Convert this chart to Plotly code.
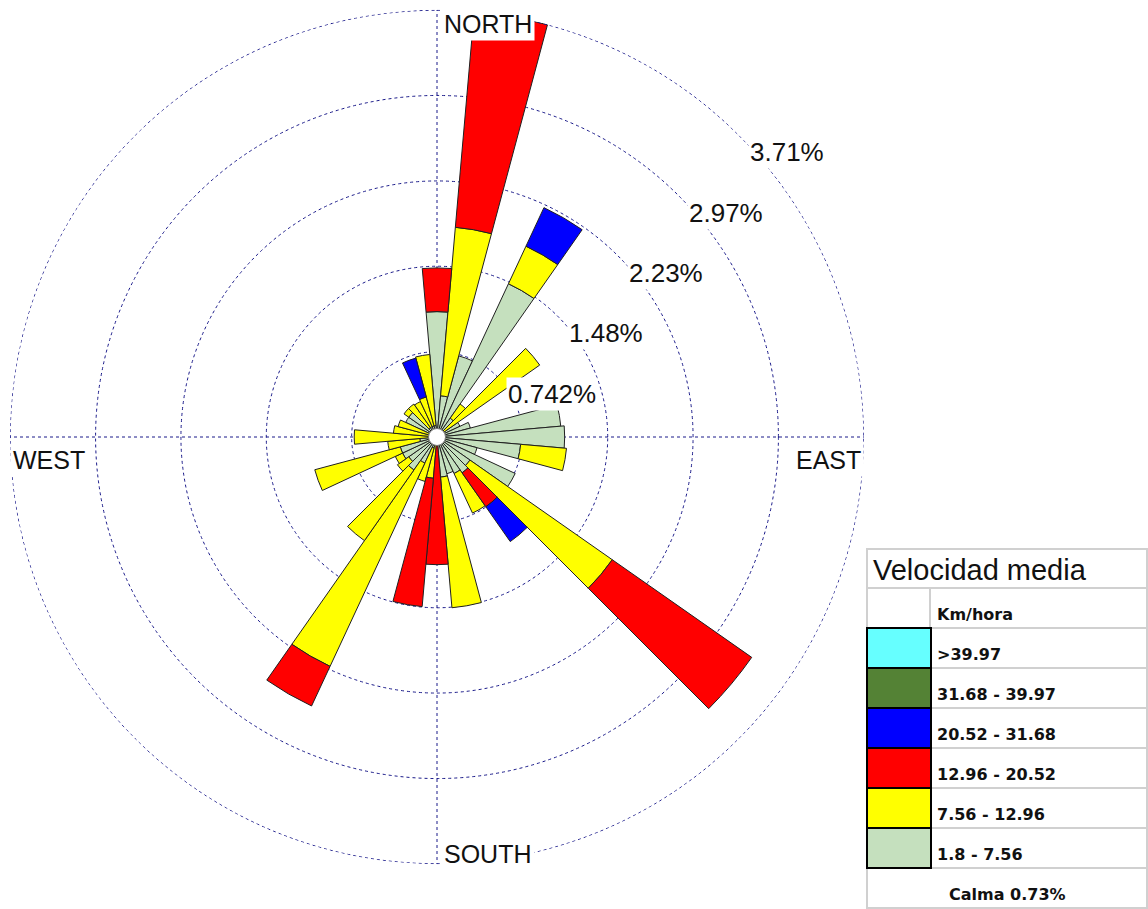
import math
import plotly.graph_objects as go

W, H = 1148, 909

# ---------------- data ----------------
directions = list(range(0, 360, 10))
# frequency (%) per direction for each speed class (km/h)
spd_1_8_7_56 = [1.09, 0.36, 0.73, 1.47, 0.20, 0.04, 0.22, 0.30, 1.08, 1.11, 0.73, 0.36,
                0.75, 0.35, 0.38, 0.35, 0.33, 0.35, 0.00, 0.00, 0.10, 0.25, 0.35, 0.30,
                0.33, 0.33, 0.15, 0.00, 0.05, 0.05, 0.30, 0.30, 0.10, 0.10, 0.10, 0.10]
spd_7_56_12_96 = [0.00, 1.47, 0.00, 0.36, 0.15, 1.05, 0.00, 0.00, 0.00, 0.00, 0.40, 0.00,
                  0.00, 1.51, 0.00, 0.38, 0.00, 1.14, 0.00, 0.36, 0.30, 1.95, 0.75, 0.12,
                  0.07, 0.77, 0.28, 0.72, 0.33, 0.30, 0.00, 0.05, 0.25, 0.24, 0.26, 0.62]
spd_12_96_20_52 = [0.38, 1.88, 0.00, 0.00, 0.00, 0.00, 0.00, 0.00, 0.00, 0.00, 0.00, 0.00,
                   0.00, 1.48, 0.36, 0.00, 0.00, 0.00, 1.11, 1.12, 0.00, 0.38, 0.00, 0.00,
                   0.00, 0.00, 0.00, 0.00, 0.00, 0.00, 0.00, 0.00, 0.00, 0.00, 0.00, 0.00]
spd_20_52_31_68 = [0.00, 0.00, 0.00, 0.37, 0.00, 0.00, 0.00, 0.00, 0.00, 0.00, 0.00, 0.00,
                   0.00, 0.00, 0.37, 0.00, 0.00, 0.00, 0.00, 0.00, 0.00, 0.00, 0.00, 0.00,
                   0.00, 0.00, 0.00, 0.00, 0.00, 0.00, 0.00, 0.00, 0.00, 0.00, 0.35, 0.00]

ring_values = [0.742, 1.484, 2.226, 2.968, 3.71]
ring_labels = ["0.742%", "1.48%", "2.23%", "2.97%", "3.71%"]
r_max = 3.712  # just above the outer ring

legend_title = "Velocidad media"
legend_unit = "Km/hora"
legend_classes = [">39.97", "31.68 - 39.97", "20.52 - 31.68", "12.96 - 20.52", "7.56 - 12.96", "1.8 - 7.56"]
legend_colors = ["#66FFFF", "#548235", "#0000FF", "#FF0000", "#FFFF00", "#C5E0BE"]
calm_text = "Calma 0.73%"

series = [
    ("1.8 - 7.56", spd_1_8_7_56, "#C5E0BE"),
    ("7.56 - 12.96", spd_7_56_12_96, "#FFFF00"),
    ("12.96 - 20.52", spd_12_96_20_52, "#FF0000"),
    ("20.52 - 31.68", spd_20_52_31_68, "#0000FF"),
]

# ---------------- layout geometry ----------------
cx_px, cy_px, R_px = 437, 437, 427
xdom = [(cx_px - R_px) / W, (cx_px + R_px) / W]
ydom = [1 - (cy_px + R_px) / H, 1 - (cy_px - R_px) / H]
grid_col = "#1a1a8a"
grid_dash = "3px,3px"
FONT = "Liberation Sans, Arial, sans-serif"

fig = go.Figure()

# outer grid ring (plotly omits the grid circle at the edge of the range)
ring_theta = list(range(0, 361, 1))
fig.add_trace(go.Scatterpolar(r=[ring_values[-1]] * len(ring_theta), theta=ring_theta, mode="lines",
                              line=dict(color=grid_col, width=1, dash=grid_dash),
                              showlegend=False, hoverinfo="skip"))

for name, vals, col in series:
    fig.add_trace(go.Barpolar(
        r=vals, theta=directions, width=10, name=name,
        marker=dict(color=col, line=dict(color="#202020", width=1)),
        showlegend=False, hoverinfo="skip"))

# calm circle
fig.add_trace(go.Scatterpolar(r=[0], theta=[0], mode="markers",
                              marker=dict(size=17, color="white", line=dict(color="#777777", width=1)),
                              showlegend=False, hoverinfo="skip"))

# invisible cartesian overlay sharing the polar scale (for labels)
fig.add_trace(go.Scatter(x=[None], y=[None], xaxis="x", yaxis="y", showlegend=False, hoverinfo="skip"))

annotations = []
s45 = math.sin(math.radians(45))
for v, t in zip(ring_values, ring_labels):
    annotations.append(dict(x=v * s45, y=v * s45, xref="x", yref="y", text=t, showarrow=False,
                            xanchor="left", yanchor="top", xshift=9, yshift=0,
                            bgcolor="white", borderpad=1,
                            font=dict(family=FONT, size=26, color="#111111")))

dir_labels = [
    ("NORTH", 0, 3.71, "left", "middle", 4, -14),
    ("SOUTH", 0, -3.71, "left", "middle", 4, 10),
    ("WEST", -3.71, 0, "left", "middle", 0, -23),
    ("EAST", 3.71, 0, "right", "middle", 0, -23),
]
for t, x, y, xa, ya, xs, ys in dir_labels:
    annotations.append(dict(x=x, y=y, xref="x", yref="y", text=t, showarrow=False,
                            xanchor=xa, yanchor=ya, xshift=xs, yshift=ys,
                            bgcolor="white", borderpad=2,
                            font=dict(family=FONT, size=25, color="#111111")))

# ---------------- legend table (paper coords from pixels) ----------------
def px(x):
    return x / W

def py(y):
    return 1 - y / H

L, R, T, B = 867, 1147, 549, 908
title_bottom = 588
row_h = 40
divider_x = 930
shapes = []
gray = "#D0D0D0"
shapes.append(dict(type="rect", xref="paper", yref="paper", x0=px(L), x1=px(R), y0=py(B), y1=py(T),
                   line=dict(color=gray, width=2), fillcolor="white", layer="above"))
row_tops = [title_bottom + i * row_h for i in range(8)]  # unit row, 6 classes, calm
for yl in row_tops:
    shapes.append(dict(type="line", xref="paper", yref="paper", x0=px(L), x1=px(R), y0=py(yl), y1=py(yl),
                       line=dict(color=gray, width=2)))
shapes.append(dict(type="line", xref="paper", yref="paper", x0=px(divider_x), x1=px(divider_x),
                   y0=py(title_bottom), y1=py(title_bottom + 7 * row_h), line=dict(color=gray, width=2)))
for i, (lab, col) in enumerate(zip(legend_classes, legend_colors)):
    top = title_bottom + (i + 1) * row_h
    shapes.append(dict(type="rect", xref="paper", yref="paper", x0=px(L), x1=px(divider_x + 1),
                       y0=py(top + row_h), y1=py(top), fillcolor=col, line=dict(color="black", width=2)))
    annotations.append(dict(x=px(935), y=py(top + row_h / 2 + 6), xref="paper", yref="paper", text=lab,
                            showarrow=False, xanchor="left", yanchor="middle",
                            font=dict(family="DejaVu Sans", size=16, color="#111111", weight="bold")))

annotations.append(dict(x=px(871), y=py((T + title_bottom) / 2 + 1), xref="paper", yref="paper",
                        text=legend_title, showarrow=False, xanchor="left", yanchor="middle",
                        font=dict(family=FONT, size=29, color="#111111")))
annotations.append(dict(x=px(935), y=py(title_bottom + row_h / 2 + 6), xref="paper", yref="paper",
                        text=legend_unit, showarrow=False, xanchor="left", yanchor="middle",
                        font=dict(family="DejaVu Sans", size=16, color="#111111", weight="bold")))
annotations.append(dict(x=px((L + R) / 2), y=py(title_bottom + 7 * row_h + row_h / 2 + 6), xref="paper",
                        yref="paper", text=calm_text, showarrow=False, xanchor="center", yanchor="middle",
                        font=dict(family="DejaVu Sans", size=16, color="#111111", weight="bold")))

fig.update_layout(
    width=W, height=H, margin=dict(l=0, r=0, t=0, b=0),
    paper_bgcolor="white", plot_bgcolor="rgba(0,0,0,0)", showlegend=False,
    polar=dict(
        domain=dict(x=xdom, y=ydom), bgcolor="white", barmode="stack",
        radialaxis=dict(range=[0, r_max], tickvals=ring_values, showticklabels=False, ticks="",
                        showline=False, gridcolor=grid_col, griddash=grid_dash, gridwidth=1,
                        layer="below traces"),
        angularaxis=dict(rotation=90, direction="clockwise", tickvals=[0, 90, 180, 270],
                         showticklabels=False, ticks="", showline=False, gridcolor=grid_col,
                         griddash=grid_dash, gridwidth=1, layer="below traces"),
    ),
    xaxis=dict(domain=xdom, range=[-r_max, r_max], visible=False, fixedrange=True),
    yaxis=dict(domain=ydom, range=[-r_max, r_max], visible=False, fixedrange=True),
    annotations=annotations, shapes=shapes,
)

fig.write_html("out.html", config={"displayModeBar": False},
               post_script="document.body.style.margin='0px';document.body.style.overflow='hidden';")
